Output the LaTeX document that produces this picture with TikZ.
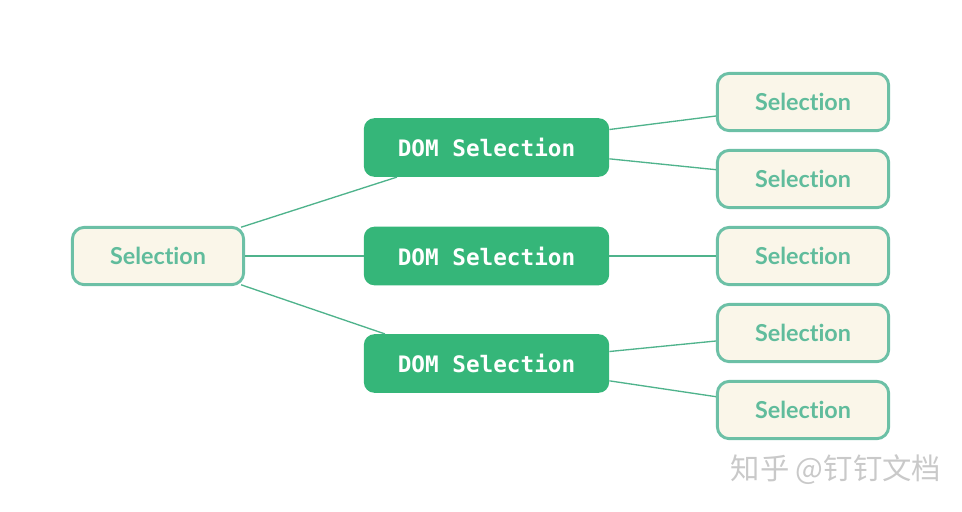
\documentclass[tikz,border=0pt]{standalone}
\usepackage{fontspec}
\setmainfont{Lato}[Ligatures=NoCommon]
\newfontfamily\monob{DejaVu Sans Mono}
\newfontfamily\cjk{Noto Sans CJK SC}
\definecolor{selborder}{HTML}{6CC0A6}
\definecolor{selfill}{HTML}{FAF6E9}
\definecolor{seltext}{HTML}{60BC9C}
\definecolor{domfill}{HTML}{35B679}
\definecolor{linkc}{HTML}{4FB38C}
\definecolor{wmark}{HTML}{C9C9C9}
\tikzset{
  selbox/.style={draw=selborder, line width=2.2pt, fill=selfill, rounded corners=9pt,
    minimum width=128.5pt, minimum height=43pt, inner sep=0pt,
    text=seltext, font=\fontsize{17.5}{20}\selectfont\bfseries},
  dombox/.style={fill=domfill, rounded corners=8pt, minimum width=184pt, minimum height=44pt,
    inner sep=0pt, text=white, font=\monob\fontsize{17}{20}\selectfont\bfseries},
  link/.style={draw=linkc, line width=1pt}
}
\begin{document}
\begin{tikzpicture}[x=0.75pt,y=-0.75pt]
\useasboundingbox (0,0) rectangle (962,511);
\node[selbox] (root) at (158,256) {Selection};
\node[dombox] (d1) at (486.5,147.5) {DOM Selection};
\node[dombox] (d2) at (486.5,256) {DOM Selection};
\node[dombox] (d3) at (486.5,363.5) {DOM Selection};
\node[selbox] (r1) at (803,102) {Selection};
\node[selbox] (r2) at (803,179) {Selection};
\node[selbox] (r3) at (803,256) {Selection};
\node[selbox] (r4) at (803,333) {Selection};
\node[selbox] (r5) at (803,410) {Selection};
\draw[link] ([xshift=-3pt,yshift=-1pt]root.north east) -- ([xshift=25pt]d1.south west);
\draw[link] (root.east) -- (d2.west);
\draw[link] ([xshift=-3pt,yshift=1pt]root.south east) -- ([xshift=16pt]d3.north west);
\draw[link] ([yshift=13.5pt]d1.east) -- ([yshift=-10.5pt]r1.west);
\draw[link] ([yshift=-8.5pt]d1.east) -- ([yshift=7pt]r2.west);
\draw[link] (d2.east) -- (r3.west);
\draw[link] ([yshift=9pt]d3.east) -- ([yshift=-6pt]r4.west);
\draw[link] ([yshift=-13pt]d3.east) -- ([yshift=10pt]r5.west);
\node[text=wmark, font=\cjk\fontsize{22}{26}\selectfont, anchor=west] (wm) at (726,470) {知乎 @钉钉文档};
\end{tikzpicture}
\end{document}
